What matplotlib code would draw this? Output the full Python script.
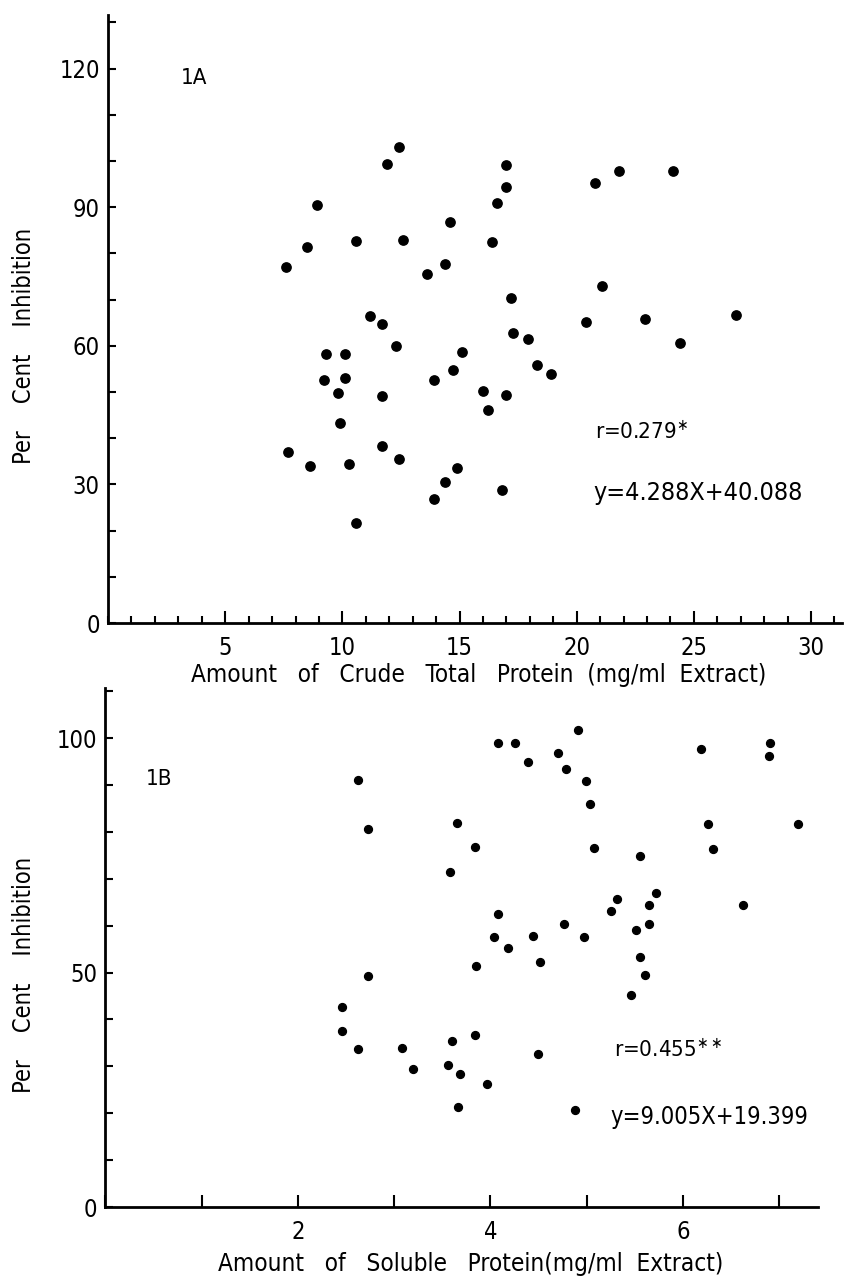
import matplotlib
matplotlib.use("Agg")
import matplotlib.pyplot as plt
from matplotlib.ticker import MultipleLocator

# --- data ---
# panel 1A: crude total protein (mg/ml) vs per cent inhibition
crude_x = [12.4, 11.9, 17.0, 21.8, 24.1, 20.8, 17.0, 8.9, 16.6, 14.6,
           10.6, 12.6, 16.4, 8.5, 7.6, 14.4, 13.6, 21.1, 17.2, 11.2,
           11.7, 20.4, 22.9, 26.8, 17.3, 17.9, 12.3, 24.4, 15.1, 9.3,
           10.1, 18.3, 14.7, 18.9, 9.2, 10.1, 13.9, 16.0, 9.8, 11.7,
           17.0, 16.2, 9.9, 7.7, 11.7, 12.4, 8.6, 10.3, 14.9, 14.4,
           16.8, 13.9, 10.6]
crude_inh = [103.1, 99.3, 99.1, 97.9, 97.8, 95.3, 94.4, 90.5, 91.0, 86.7,
             82.7, 82.9, 82.5, 81.4, 77.1, 77.8, 75.5, 72.9, 70.4, 66.5,
             64.7, 65.2, 65.7, 66.7, 62.7, 61.5, 60.0, 60.5, 58.6, 58.2,
             58.2, 55.8, 54.8, 53.8, 52.5, 53.1, 52.7, 50.2, 49.7, 49.2,
             49.4, 46.0, 43.4, 37.1, 38.3, 35.6, 34.0, 34.4, 33.5, 30.5,
             28.9, 26.9, 21.7]

# panel 1B: soluble protein (mg/ml) vs per cent inhibition
sol_x = [4.91, 4.08, 4.26, 6.90, 6.19, 4.70, 6.89, 4.39, 4.79, 2.63,
         4.99, 5.03, 3.65, 6.26, 7.20, 2.73, 3.84, 5.08, 6.31, 5.55,
         3.58, 5.72, 5.32, 6.62, 5.65, 5.25, 4.08, 4.77, 5.65, 5.51,
         4.04, 4.44, 4.97, 4.18, 5.55, 4.52, 3.85, 2.73, 5.61, 5.46,
         2.46, 2.46, 2.63, 3.08, 3.60, 3.84, 4.49, 3.20, 3.56, 3.68,
         3.97, 3.66, 4.88]
sol_inh = [101.7, 99.0, 98.9, 98.9, 97.6, 96.9, 96.2, 95.0, 93.5, 91.0,
           90.8, 85.9, 81.9, 81.6, 81.8, 80.7, 76.8, 76.5, 76.3, 74.9,
           71.5, 66.9, 65.8, 64.4, 64.4, 63.1, 62.4, 60.3, 60.3, 59.1,
           57.5, 57.9, 57.7, 55.2, 53.4, 52.2, 51.4, 49.3, 49.4, 45.2,
           42.7, 37.5, 33.7, 34.0, 35.5, 36.7, 32.6, 29.5, 30.3, 28.4,
           26.3, 21.3, 20.8]

plt.rcParams['font.family'] = ['DejaVu Sans']
plt.rcParams['font.stretch'] = 'condensed'

fig = plt.figure(figsize=(8.46, 12.77), dpi=100)
ax1 = fig.add_axes([0.1277, 0.5121, 0.867, 0.4762])
ax2 = fig.add_axes([0.1245, 0.0548, 0.842, 0.4064])


def style_axes(ax):
    for s in ['top', 'right']:
        ax.spines[s].set_visible(False)
    for s in ['left', 'bottom']:
        ax.spines[s].set_linewidth(2.0)
        ax.spines[s].set_color('black')
    ax.tick_params(which='both', direction='in', color='black', width=1.5)
    ax.tick_params(axis='x', which='major', length=9, pad=9, labelsize=17)
    ax.tick_params(axis='x', which='minor', length=5)
    ax.tick_params(axis='y', which='both', length=6, pad=6, labelsize=17)


# ---- 1A ----
ax1.scatter(crude_x, crude_inh, s=45, color='black', zorder=3)
ax1.set_xlim(0, 31.3)
ax1.set_ylim(0, 131.6)
ax1.xaxis.set_minor_locator(MultipleLocator(1))
ax1.set_xticks([5, 10, 15, 20, 25, 30])
ax1.set_yticks([0, 30, 60, 90, 120])
ax1.yaxis.set_minor_locator(MultipleLocator(10))
style_axes(ax1)
ax1.set_xlabel('Amount   of   Crude   Total   Protein  (mg/ml  Extract)', fontsize=17.5)
ax1.xaxis.set_label_coords(0.505, -0.066)
ax1.set_ylabel('Per    Cent    Inhibition', fontsize=17)
ax1.yaxis.set_label_coords(-0.098, 0.455)
ax1.text(3.1, 118, '1A', fontsize=16, va='center')
ax1.text(20.8, 41.4, 'r=0.279$^{\\ast}$', fontsize=16, va='center')
ax1.text(20.7, 28.2, 'y=4.288X+40.088', fontsize=18, va='center')

# ---- 1B ----
ax2.scatter(sol_x, sol_inh, s=32, color='black', zorder=3)
ax2.set_xlim(0, 7.4)
ax2.set_ylim(0, 110.7)
ax2.xaxis.set_minor_locator(MultipleLocator(1))
ax2.set_xticks([2, 4, 6])
ax2.set_yticks([0, 50, 100])
ax2.yaxis.set_minor_locator(MultipleLocator(10))
style_axes(ax2)
ax2.tick_params(axis='x', which='minor', length=9)
ax2.set_xlabel('Amount   of   Soluble   Protein(mg/ml  Extract)', fontsize=17.5)
ax2.xaxis.set_label_coords(0.513, -0.086)
ax2.set_ylabel('Per    Cent    Inhibition', fontsize=17)
ax2.yaxis.set_label_coords(-0.098, 0.447)
ax2.text(0.42, 91.3, '1B', fontsize=16, va='center')
ax2.text(5.28, 33.7, 'r=0.455$^{\\ast\\ast}$', fontsize=16, va='center')
ax2.text(5.25, 19.3, 'y=9.005X+19.399', fontsize=17, va='center')

fig.savefig('out.png', dpi=100)
